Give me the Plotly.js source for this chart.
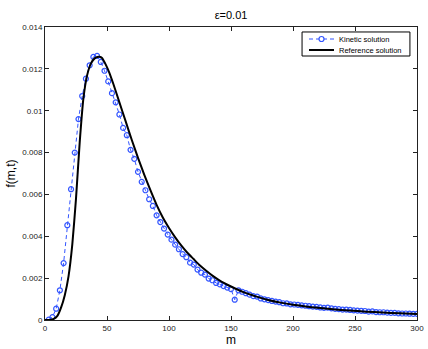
<!DOCTYPE html>
<html>
<head>
<meta charset="utf-8">
<script src="https://cdn.plot.ly/plotly-3.0.1.min.js"></script>
<style>
  html, body { margin: 0; padding: 0; background: #fff; }
  #plot { width: 428px; height: 349px; }
</style>
</head>
<body>
<div id="plot"></div>
<script>
// Kinetic solution (markers every 3 in m)
const kinM = [3, 6, 9, 12, 15, 18, 21, 24, 27, 30, 33, 36, 39, 42, 45, 48, 51, 54, 57, 60,
  63, 66, 69, 72, 75, 78, 81, 84, 87, 90, 93, 96, 99, 102, 105, 108, 111, 114, 117, 120,
  123, 126, 129, 132, 135, 138, 141, 144, 147, 150, 153, 156, 159, 162, 165, 168, 171, 174, 177, 180,
  183, 186, 189, 192, 195, 198, 201, 204, 207, 210, 213, 216, 219, 222, 225, 228, 231, 234, 237, 240,
  243, 246, 249, 252, 255, 258, 261, 264, 267, 270, 273, 276, 279, 282, 285, 288, 291, 294, 297, 300];
const kinF = [0.00002, 0.00014, 0.00054, 0.00142, 0.00272, 0.00453, 0.00625, 0.0080, 0.0096, 0.0107,
  0.01153, 0.01217, 0.01257, 0.01262, 0.01233, 0.01191, 0.0114, 0.01084, 0.0104, 0.00982,
  0.00918, 0.00883, 0.00813, 0.0077, 0.00708, 0.0066, 0.0062, 0.00577, 0.00545, 0.0050,
  0.00468, 0.00437, 0.00408, 0.00384, 0.0036, 0.00338, 0.00315, 0.0030, 0.00274, 0.00265,
  0.00241, 0.00226, 0.00217, 0.00198, 0.0019, 0.00177, 0.0017, 0.00162, 0.00155, 0.00148,
  0.00097, 0.00142, 0.00135, 0.00128, 0.00121, 0.00114, 0.00112, 0.00103, 0.00099, 0.00095,
  0.00091, 0.00088, 0.00085, 0.00080, 0.00079, 0.00075, 0.00074, 0.00072, 0.00070, 0.00068,
  0.00066, 0.00064, 0.00063, 0.00060, 0.00058, 0.00059, 0.00056, 0.00053, 0.00052, 0.00050,
  0.00050, 0.00048, 0.00046, 0.00045, 0.00044, 0.00043, 0.00040, 0.00041, 0.00038, 0.00037,
  0.00037, 0.00035, 0.00034, 0.00034, 0.00032, 0.00031, 0.00031, 0.00030, 0.00029, 0.00029];

// Reference solution (solid black curve)
const refM = [0, 4, 7, 10, 13, 16, 19, 22, 25, 28, 31, 34, 37, 40, 43, 44, 46, 49, 52, 55,
  60, 65, 70, 75, 80, 85, 90, 95, 100, 105, 110, 115, 120, 125, 130, 135, 140, 145, 150, 160,
  170, 180, 190, 200, 210, 220, 232, 245, 259, 272, 286, 300];
const refF = [0, 0, 0.00005, 0.0002, 0.0006, 0.0012, 0.0021, 0.0036, 0.0058, 0.0085, 0.0106, 0.0117,
  0.01225, 0.0125, 0.01258, 0.01258, 0.01252, 0.0122, 0.0118, 0.0113,
  0.0104, 0.0095, 0.0086, 0.00775, 0.00695, 0.0062, 0.0055, 0.0049, 0.0044, 0.00395,
  0.00355, 0.0032, 0.0029, 0.0026, 0.00235, 0.00212, 0.00192, 0.00175, 0.0016, 0.00133,
  0.00113, 0.00096, 0.00083, 0.00073, 0.00065, 0.00058, 0.00051, 0.00045, 0.0004, 0.00036,
  0.00032, 0.00029];

// Legend entries
const legendNames = ['Kinetic solution', 'Reference solution'];

const BLUE = '#3355ff';
const FONT = 'Liberation Sans, Arial, sans-serif';

const kinetic = {
  name: legendNames[0],
  x: kinM, y: kinF,
  mode: 'lines+markers',
  line: { color: BLUE, width: 1, dash: '4px,3px' },
  marker: { symbol: 'circle-open', size: 5, color: BLUE, line: { width: 1.2, color: BLUE } },
  showlegend: false
};

const reference = {
  name: legendNames[1],
  x: refM, y: refF,
  mode: 'lines',
  line: { color: '#000', width: 2, shape: 'spline', smoothing: 0.5 },
  showlegend: false
};

const axisCommon = {
  showgrid: false, zeroline: false,
  showline: true, linecolor: '#222', linewidth: 1,
  mirror: 'ticks', ticks: 'inside', ticklen: 4, tickcolor: '#222',
  tickfont: { family: FONT, size: 8, color: '#222' }
};

// compact MATLAB-style legend box (paper coords of the plot area)
const LX0 = 0.691, LX1 = 0.981, LY0 = 0.901, LY1 = 0.983;
const rowY = [0.959, 0.9215];
const sampleX0 = 0.7097, sampleX1 = 0.7769, sampleMid = 0.7433, textX = 0.785;

const shapes = [
  { type: 'rect', xref: 'paper', yref: 'paper', x0: LX0, x1: LX1, y0: LY0, y1: LY1,
    line: { color: '#000', width: 1 }, fillcolor: '#fff', layer: 'above' },
  { type: 'line', xref: 'paper', yref: 'paper', x0: sampleX0, x1: sampleX1, y0: rowY[0], y1: rowY[0],
    line: { color: BLUE, width: 1, dash: '4px,3px' }, layer: 'above' },
  { type: 'circle', xref: 'paper', yref: 'paper', xsizemode: 'pixel', ysizemode: 'pixel',
    xanchor: sampleMid, yanchor: rowY[0], x0: -2.5, x1: 2.5, y0: -2.5, y1: 2.5,
    line: { color: BLUE, width: 1.2 }, fillcolor: '#fff', layer: 'above' },
  { type: 'line', xref: 'paper', yref: 'paper', x0: sampleX0, x1: sampleX1, y0: rowY[1], y1: rowY[1],
    line: { color: '#000', width: 2 }, layer: 'above' }
];

const annotations = legendNames.map((name, i) => ({
  text: name, xref: 'paper', yref: 'paper', x: textX, y: rowY[i],
  xanchor: 'left', yanchor: 'middle', showarrow: false,
  font: { family: FONT, size: 7.5, color: '#000' }
}));

const layout = {
  width: 428, height: 349,
  margin: { l: 45, r: 11, t: 27, b: 29 },
  paper_bgcolor: '#fff', plot_bgcolor: '#fff',
  font: { family: FONT, color: '#000' },
  title: { text: 'ε=0.01', font: { family: FONT, size: 11, color: '#000' },
           xref: 'paper', x: 0.5, xanchor: 'center', y: 0.957, yanchor: 'middle' },
  xaxis: Object.assign({}, axisCommon, {
    range: [0, 300], tickvals: [0, 50, 100, 150, 200, 250, 300],
    title: { text: 'm', font: { family: FONT, size: 12 }, standoff: 2 }
  }),
  yaxis: Object.assign({}, axisCommon, {
    range: [0, 0.014],
    tickvals: [0, 0.002, 0.004, 0.006, 0.008, 0.01, 0.012, 0.014],
    ticktext: ['0', '0.002', '0.004', '0.006', '0.008', '0.01', '0.012', '0.014'],
    title: { text: 'f(m,t)', font: { family: FONT, size: 12 }, standoff: 4 }
  }),
  showlegend: false,
  shapes: shapes,
  annotations: annotations
};

Plotly.newPlot('plot', [kinetic, reference], layout, { displayModeBar: false, staticPlot: true });
</script>
</body>
</html>
